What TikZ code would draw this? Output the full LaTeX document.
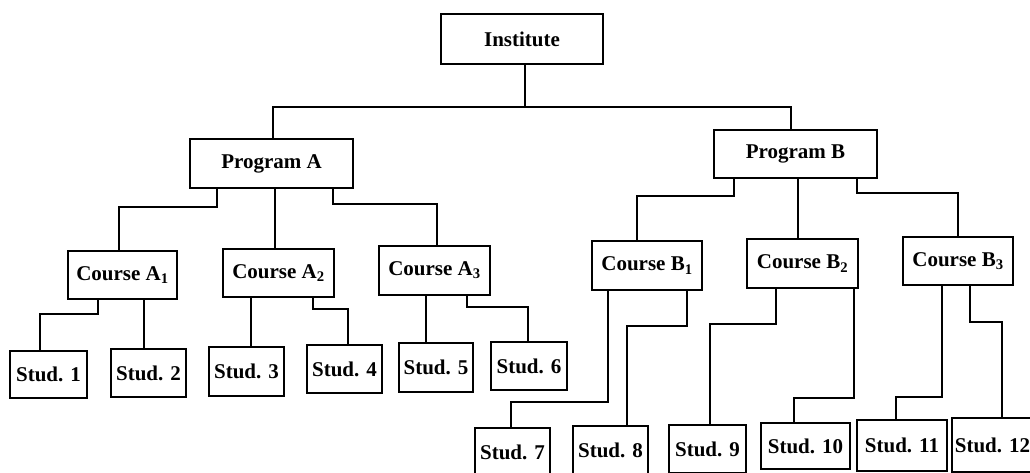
\documentclass[tikz,border=0pt]{standalone}
\usepackage{fontspec}
\setmainfont{Liberation Serif}
\begin{document}
\begin{tikzpicture}[x=1pt,y=-1pt,
  unit/.style={draw=black,line width=2.3pt,rectangle,inner sep=0pt,
    minimum width=#1,font=\fontsize{21}{24}\selectfont\bfseries},
  link/.style={line width=2.3pt,line cap=round,line join=miter}]
\useasboundingbox (0,0) rectangle (1030,473);
\clip (0,0) rectangle (1030,473);

% top levels
\node[unit=162pt,minimum height=50pt] (inst) at (522,39) {Institute};
\node[unit=163pt,minimum height=49pt] (pa) at (271.5,163.5) {Program A};
\node[unit=163pt,minimum height=48pt] (pb) at (795.5,154) {Program B};

% courses
\node[unit=109pt,minimum height=48pt] (ca1) at (122.5,275) {Course A\textsubscript{1}};
\node[unit=111pt,minimum height=48pt] (ca2) at (278.5,273) {Course A\textsubscript{2}};
\node[unit=111pt,minimum height=49pt] (ca3) at (434.5,270.5) {Course A\textsubscript{3}};
\node[unit=110pt,minimum height=49pt] (cb1) at (647,265.5) {Course B\textsubscript{1}};
\node[unit=111pt,minimum height=49pt] (cb2) at (802.5,263.5) {Course B\textsubscript{2}};
\node[unit=110pt,minimum height=48pt] (cb3) at (958,261) {Course B\textsubscript{3}};

% students
\node[unit=77pt,minimum height=47pt] (s1) at (48.5,374.5) {Stud. 1};
\node[unit=75pt,minimum height=48pt] (s2) at (148.5,373) {Stud. 2};
\node[unit=75pt,minimum height=49pt] (s3) at (246.5,371.5) {Stud. 3};
\node[unit=75pt,minimum height=48pt] (s4) at (344.5,369) {Stud. 4};
\node[unit=74pt,minimum height=49pt] (s5) at (436,367.5) {Stud. 5};
\node[unit=76pt,minimum height=48pt] (s6) at (529,366) {Stud. 6};
\node[unit=75pt,minimum height=48pt] (s7) at (512.5,452) {Stud. 7};
\node[unit=75pt,minimum height=48pt] (s8) at (610.5,450) {Stud. 8};
\node[unit=77pt,minimum height=48pt] (s9) at (707.5,449) {Stud. 9};
\node[unit=89pt,minimum height=46pt] (s10) at (805.5,446) {Stud. 10};
\node[unit=90pt,minimum height=51pt] (s11) at (902,445.5) {Stud. 11};
% last box runs past the right edge; its text sits a little left of centre
\node[unit=90pt,minimum height=54pt] (s12) at (997,445) {Stud. 12\hspace*{9pt}};

% institute to programs
\draw[link] ([xshift=3pt]inst.south) -- ++(0,42) -| ([xshift=1.5pt]pa.north);
\draw[link] ([xshift=3pt]inst.south) -- ++(0,42) -| ([xshift=-4.5pt]pb.north);

% program A to its courses
\draw[link] ([xshift=-54.5pt]pa.south) -- ++(0,18) -| ([xshift=-3.5pt]ca1.north);
\draw[link] ([xshift=3.5pt]pa.south) -- ([xshift=-3.5pt]ca2.north);
\draw[link] ([xshift=61.5pt]pa.south) -- ++(0,15) -| ([xshift=2.5pt]ca3.north);

% program B to its courses
\draw[link] ([xshift=-61.5pt]pb.south) -- ++(0,17) -| ([xshift=-10pt]cb1.north);
\draw[link] ([xshift=2.5pt]pb.south) -- ([xshift=-4.5pt]cb2.north);
\draw[link] ([xshift=61.5pt]pb.south) -- ++(0,14) -| (cb3.north);

% courses A to students
\draw[link] ([xshift=-24.5pt]ca1.south) -- ++(0,14) -| ([xshift=-8.5pt]s1.north);
\draw[link] ([xshift=21.5pt]ca1.south) -- ([xshift=-4.5pt]s2.north);
\draw[link] ([xshift=-27.5pt]ca2.south) -- ([xshift=4.5pt]s3.north);
\draw[link] ([xshift=34.5pt]ca2.south) -- ++(0,11) -| ([xshift=3.5pt]s4.north);
\draw[link] ([xshift=-8.5pt]ca3.south) -- ([xshift=-10pt]s5.north);
\draw[link] ([xshift=32.5pt]ca3.south) -- ++(0,11) -| ([xshift=-1pt]s6.north);

% courses B to students
\draw[link] ([xshift=-39pt]cb1.south) -- ++(0,111) -| ([xshift=-1.5pt]s7.north);
\draw[link] ([xshift=40pt]cb1.south) -- ++(0,35) -| ([xshift=16.5pt]s8.north);
\draw[link] ([xshift=-26.5pt]cb2.south) -- ++(0,35) -| ([xshift=2.5pt]s9.north);
\draw[link] ([xshift=51.5pt]cb2.south) -- ++(0,109) -| ([xshift=-11.5pt]s10.north);
\draw[link] ([xshift=-16pt]cb3.south) -- ++(0,111) -| ([xshift=-6pt]s11.north);
\draw[link] ([xshift=12pt]cb3.south) -- ++(0,36) -| ([xshift=5pt]s12.north);
\end{tikzpicture}
\end{document}
